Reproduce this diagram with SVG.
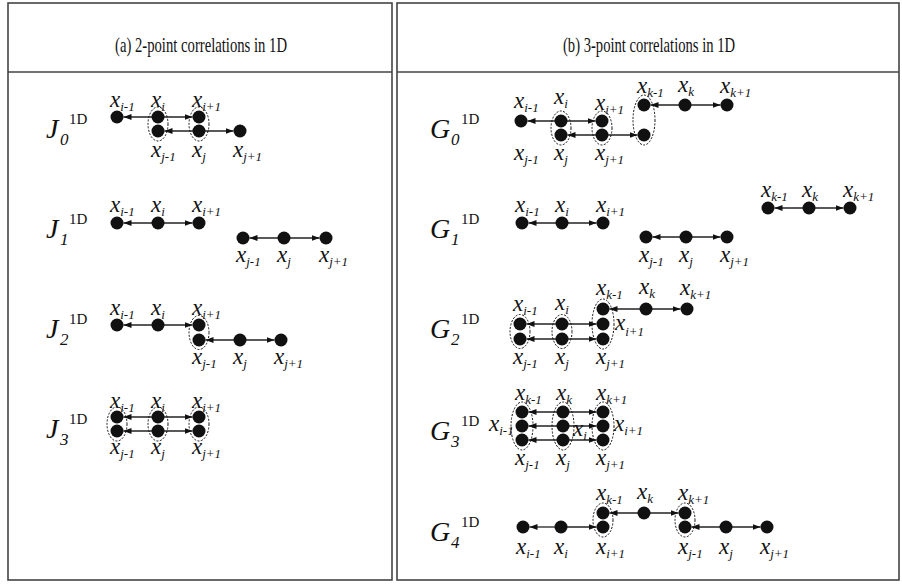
<svg xmlns="http://www.w3.org/2000/svg" width="902" height="584" viewBox="0 0 902 584">
<defs>
<marker id="ah" markerUnits="userSpaceOnUse" markerWidth="9" markerHeight="7" refX="8" refY="3" orient="auto">
<path d="M0,0 L8,3 L0,6 z" fill="#111"/>
</marker>
<style>
.frame{fill:#fff;stroke:#444;stroke-width:1.6}
.hdr{font-family:"Liberation Serif","DejaVu Serif",serif;font-size:22px;fill:#111}
.n{fill:#111}
.e{fill:none;stroke:#111;stroke-width:1;stroke-dasharray:2 1.5}
.c line{stroke:#222;stroke-width:1.3;marker-end:url(#ah)}
.lb{font-family:"Liberation Serif","DejaVu Serif",serif;font-style:italic;font-size:23px;fill:#111}
.sb{font-size:13px}
.big{font-family:"Liberation Serif","DejaVu Serif",serif;font-style:italic;font-size:28px;fill:#111}
.sup{font-family:"Liberation Serif","DejaVu Serif",serif;font-size:15px;fill:#111}
.sub{font-family:"Liberation Serif","DejaVu Serif",serif;font-style:italic;font-size:17px;fill:#111}
</style>
</defs>
<rect width="902" height="584" fill="#fff"/>
<g id="frames">
<rect class="frame" x="8" y="3" width="384" height="577"/>
<line x1="8" y1="72" x2="392" y2="72" stroke="#444" stroke-width="1.6"/>
<rect class="frame" x="397" y="3" width="502" height="577"/>
<line x1="397" y1="72" x2="899" y2="72" stroke="#444" stroke-width="1.6"/>
<text class="hdr" x="115" y="52" textLength="172" lengthAdjust="spacingAndGlyphs">(a)  2-point correlations in 1D</text>
<text class="hdr" x="563" y="52" textLength="172" lengthAdjust="spacingAndGlyphs">(b)  3-point correlations in 1D</text>
</g>

<g id="connectors" class="c">
<line x1="158" y1="117" x2="123.5" y2="117"/><line x1="158" y1="117" x2="192.5" y2="117"/>
<line x1="199" y1="131" x2="164.5" y2="131"/><line x1="199" y1="131" x2="233.5" y2="131"/>
<line x1="158" y1="223" x2="123.5" y2="223"/><line x1="158" y1="223" x2="192.5" y2="223"/>
<line x1="284" y1="238" x2="249.5" y2="238"/><line x1="284" y1="238" x2="319.5" y2="238"/>
<line x1="158" y1="325" x2="123.5" y2="325"/><line x1="158" y1="325" x2="192.5" y2="325"/>
<line x1="240" y1="340" x2="205.5" y2="340"/><line x1="240" y1="340" x2="274.5" y2="340"/>
<line x1="158" y1="417" x2="123.5" y2="417"/><line x1="158" y1="417" x2="192.5" y2="417"/>
<line x1="158" y1="431" x2="123.5" y2="431"/><line x1="158" y1="431" x2="192.5" y2="431"/>
<line x1="561" y1="121" x2="527.5" y2="121"/><line x1="561" y1="121" x2="595.5" y2="121"/>
<line x1="602" y1="135" x2="567.5" y2="135"/><line x1="602" y1="135" x2="637.5" y2="135"/>
<line x1="685" y1="105" x2="650.5" y2="105"/><line x1="685" y1="105" x2="720.5" y2="105"/>
<line x1="562" y1="223" x2="528.5" y2="223"/><line x1="562" y1="223" x2="596.5" y2="223"/>
<line x1="686" y1="237" x2="652.5" y2="237"/><line x1="686" y1="237" x2="720.5" y2="237"/>
<line x1="809" y1="208" x2="774.5" y2="208"/><line x1="809" y1="208" x2="843.5" y2="208"/>
<line x1="562" y1="324" x2="526.5" y2="324"/><line x1="562" y1="324" x2="596.5" y2="324"/>
<line x1="562" y1="339" x2="526.5" y2="339"/><line x1="562" y1="339" x2="596.5" y2="339"/>
<line x1="646" y1="309" x2="609.5" y2="309"/><line x1="646" y1="309" x2="680.5" y2="309"/>
<line x1="563" y1="412" x2="528.5" y2="412"/><line x1="563" y1="412" x2="596.5" y2="412"/>
<line x1="563" y1="426" x2="528.5" y2="426"/><line x1="563" y1="426" x2="596.5" y2="426"/>
<line x1="563" y1="440" x2="528.5" y2="440"/><line x1="563" y1="440" x2="596.5" y2="440"/>
<line x1="561" y1="527" x2="529.5" y2="527"/><line x1="561" y1="527" x2="596.5" y2="527"/>
<line x1="644" y1="513" x2="609.5" y2="513"/><line x1="644" y1="513" x2="678.5" y2="513"/>
<line x1="726" y1="527" x2="691.5" y2="527"/><line x1="726" y1="527" x2="760.5" y2="527"/>
</g>

<g id="J0">
<text class="big" x="46" y="138">J</text><text class="sup" x="69" y="124">1D</text><text class="sub" x="60" y="145">0</text>
<circle class="n" cx="117" cy="117" r="6.5"/><circle class="n" cx="158" cy="117" r="6.5"/><circle class="n" cx="199" cy="117" r="6.5"/>
<circle class="n" cx="158" cy="131" r="6.5"/><circle class="n" cx="199" cy="131" r="6.5"/><circle class="n" cx="240" cy="131" r="6.5"/>
<ellipse class="e" cx="158" cy="124" rx="10" ry="17"/><ellipse class="e" cx="199" cy="124" rx="10" ry="17"/>
<text class="lb" x="110" y="107">x<tspan class="sb" dy="4">i-1</tspan></text>
<text class="lb" x="151" y="107">x<tspan class="sb" dy="4">i</tspan></text>
<text class="lb" x="192" y="107">x<tspan class="sb" dy="4">i+1</tspan></text>
<text class="lb" x="151" y="157">x<tspan class="sb" dy="4">j-1</tspan></text>
<text class="lb" x="192" y="157">x<tspan class="sb" dy="4">j</tspan></text>
<text class="lb" x="233" y="157">x<tspan class="sb" dy="4">j+1</tspan></text>
</g>

<g id="J1">
<text class="big" x="46" y="238">J</text><text class="sup" x="69" y="224">1D</text><text class="sub" x="60" y="245">1</text>
<circle class="n" cx="117" cy="223" r="6.5"/><circle class="n" cx="158" cy="223" r="6.5"/><circle class="n" cx="199" cy="223" r="6.5"/>
<circle class="n" cx="243" cy="238" r="6.5"/><circle class="n" cx="284" cy="238" r="6.5"/><circle class="n" cx="326" cy="238" r="6.5"/>
<text class="lb" x="110" y="212">x<tspan class="sb" dy="4">i-1</tspan></text>
<text class="lb" x="151" y="212">x<tspan class="sb" dy="4">i</tspan></text>
<text class="lb" x="192" y="212">x<tspan class="sb" dy="4">i+1</tspan></text>
<text class="lb" x="236" y="262">x<tspan class="sb" dy="4">j-1</tspan></text>
<text class="lb" x="277" y="262">x<tspan class="sb" dy="4">j</tspan></text>
<text class="lb" x="319" y="262">x<tspan class="sb" dy="4">j+1</tspan></text>
</g>

<g id="J2">
<text class="big" x="46" y="338">J</text><text class="sup" x="69" y="324">1D</text><text class="sub" x="60" y="345">2</text>
<circle class="n" cx="117" cy="325" r="6.5"/><circle class="n" cx="158" cy="325" r="6.5"/><circle class="n" cx="199" cy="325" r="6.5"/>
<circle class="n" cx="199" cy="340" r="6.5"/><circle class="n" cx="240" cy="340" r="6.5"/><circle class="n" cx="281" cy="340" r="6.5"/>
<ellipse class="e" cx="199" cy="332.5" rx="10" ry="17"/>
<text class="lb" x="110" y="315">x<tspan class="sb" dy="4">i-1</tspan></text>
<text class="lb" x="151" y="315">x<tspan class="sb" dy="4">i</tspan></text>
<text class="lb" x="192" y="315">x<tspan class="sb" dy="4">i+1</tspan></text>
<text class="lb" x="192" y="364">x<tspan class="sb" dy="4">j-1</tspan></text>
<text class="lb" x="233" y="364">x<tspan class="sb" dy="4">j</tspan></text>
<text class="lb" x="274" y="364">x<tspan class="sb" dy="4">j+1</tspan></text>
</g>

<g id="J3">
<text class="big" x="46" y="438">J</text><text class="sup" x="69" y="424">1D</text><text class="sub" x="60" y="445">3</text>
<circle class="n" cx="117" cy="417" r="6.5"/><circle class="n" cx="158" cy="417" r="6.5"/><circle class="n" cx="199" cy="417" r="6.5"/>
<circle class="n" cx="117" cy="431" r="6.5"/><circle class="n" cx="158" cy="431" r="6.5"/><circle class="n" cx="199" cy="431" r="6.5"/>
<ellipse class="e" cx="117" cy="424" rx="10" ry="17"/><ellipse class="e" cx="158" cy="424" rx="10" ry="17"/><ellipse class="e" cx="199" cy="424" rx="10" ry="17"/>
<text class="lb" x="110" y="408">x<tspan class="sb" dy="4">i-1</tspan></text>
<text class="lb" x="151" y="408">x<tspan class="sb" dy="4">i</tspan></text>
<text class="lb" x="192" y="408">x<tspan class="sb" dy="4">i+1</tspan></text>
<text class="lb" x="110" y="454">x<tspan class="sb" dy="4">j-1</tspan></text>
<text class="lb" x="151" y="454">x<tspan class="sb" dy="4">j</tspan></text>
<text class="lb" x="192" y="454">x<tspan class="sb" dy="4">j+1</tspan></text>
</g>

<g id="G0">
<text class="big" x="430" y="138">G</text><text class="sup" x="461" y="124">1D</text><text class="sub" x="451" y="145">0</text>
<circle class="n" cx="521" cy="121" r="6.5"/><circle class="n" cx="561" cy="121" r="6.5"/><circle class="n" cx="602" cy="121" r="6.5"/>
<circle class="n" cx="561" cy="135" r="6.5"/><circle class="n" cx="602" cy="135" r="6.5"/><circle class="n" cx="644" cy="135" r="6.5"/>
<circle class="n" cx="644" cy="105" r="6.5"/><circle class="n" cx="685" cy="105" r="6.5"/><circle class="n" cx="727" cy="105" r="6.5"/>
<ellipse class="e" cx="561" cy="128" rx="10" ry="17"/><ellipse class="e" cx="602" cy="128" rx="10" ry="17"/><ellipse class="e" cx="644" cy="120" rx="11" ry="25"/>
<text class="lb" x="514" y="108">x<tspan class="sb" dy="4">i-1</tspan></text>
<text class="lb" x="554" y="104">x<tspan class="sb" dy="4">i</tspan></text>
<text class="lb" x="595" y="110">x<tspan class="sb" dy="4">i+1</tspan></text>
<text class="lb" x="637" y="93">x<tspan class="sb" dy="4">k-1</tspan></text>
<text class="lb" x="678" y="92">x<tspan class="sb" dy="4">k</tspan></text>
<text class="lb" x="720" y="93">x<tspan class="sb" dy="4">k+1</tspan></text>
<text class="lb" x="514" y="160">x<tspan class="sb" dy="4">j-1</tspan></text>
<text class="lb" x="554" y="160">x<tspan class="sb" dy="4">j</tspan></text>
<text class="lb" x="595" y="160">x<tspan class="sb" dy="4">j+1</tspan></text>
</g>

<g id="G1">
<text class="big" x="430" y="238">G</text><text class="sup" x="461" y="224">1D</text><text class="sub" x="451" y="245">1</text>
<circle class="n" cx="522" cy="223" r="6.5"/><circle class="n" cx="562" cy="223" r="6.5"/><circle class="n" cx="603" cy="223" r="6.5"/>
<circle class="n" cx="646" cy="237" r="6.5"/><circle class="n" cx="686" cy="237" r="6.5"/><circle class="n" cx="727" cy="237" r="6.5"/>
<circle class="n" cx="768" cy="208" r="6.5"/><circle class="n" cx="809" cy="208" r="6.5"/><circle class="n" cx="850" cy="208" r="6.5"/>
<text class="lb" x="515" y="212">x<tspan class="sb" dy="4">i-1</tspan></text>
<text class="lb" x="555" y="212">x<tspan class="sb" dy="4">i</tspan></text>
<text class="lb" x="596" y="212">x<tspan class="sb" dy="4">i+1</tspan></text>
<text class="lb" x="639" y="262">x<tspan class="sb" dy="4">j-1</tspan></text>
<text class="lb" x="679" y="262">x<tspan class="sb" dy="4">j</tspan></text>
<text class="lb" x="720" y="262">x<tspan class="sb" dy="4">j+1</tspan></text>
<text class="lb" x="761" y="197">x<tspan class="sb" dy="4">k-1</tspan></text>
<text class="lb" x="802" y="197">x<tspan class="sb" dy="4">k</tspan></text>
<text class="lb" x="843" y="197">x<tspan class="sb" dy="4">k+1</tspan></text>
</g>

<g id="G2">
<text class="big" x="430" y="338">G</text><text class="sup" x="461" y="324">1D</text><text class="sub" x="451" y="345">2</text>
<circle class="n" cx="520" cy="324" r="6.5"/><circle class="n" cx="562" cy="324" r="6.5"/><circle class="n" cx="603" cy="324" r="6.5"/>
<circle class="n" cx="520" cy="339" r="6.5"/><circle class="n" cx="562" cy="339" r="6.5"/><circle class="n" cx="603" cy="339" r="6.5"/>
<circle class="n" cx="603" cy="309" r="6.5"/><circle class="n" cx="646" cy="309" r="6.5"/><circle class="n" cx="687" cy="309" r="6.5"/>
<ellipse class="e" cx="520" cy="331.5" rx="10" ry="17"/><ellipse class="e" cx="562" cy="331.5" rx="10" ry="17"/><ellipse class="e" cx="603" cy="324" rx="11" ry="25"/>
<text class="lb" x="513" y="311">x<tspan class="sb" dy="4">i-1</tspan></text>
<text class="lb" x="555" y="310">x<tspan class="sb" dy="4">i</tspan></text>
<text class="lb" x="596" y="295">x<tspan class="sb" dy="4">k-1</tspan></text>
<text class="lb" x="639" y="294">x<tspan class="sb" dy="4">k</tspan></text>
<text class="lb" x="680" y="295">x<tspan class="sb" dy="4">k+1</tspan></text>
<text class="lb" x="615" y="330">x<tspan class="sb" dy="6">i+1</tspan></text>
<text class="lb" x="513" y="364">x<tspan class="sb" dy="4">j-1</tspan></text>
<text class="lb" x="555" y="364">x<tspan class="sb" dy="4">j</tspan></text>
<text class="lb" x="596" y="364">x<tspan class="sb" dy="4">j+1</tspan></text>
</g>

<g id="G3">
<text class="big" x="430" y="440">G</text><text class="sup" x="461" y="426">1D</text><text class="sub" x="451" y="447">3</text>
<circle class="n" cx="522" cy="412" r="6.5"/><circle class="n" cx="563" cy="412" r="6.5"/><circle class="n" cx="603" cy="412" r="6.5"/>
<circle class="n" cx="522" cy="426" r="6.5"/><circle class="n" cx="563" cy="426" r="6.5"/><circle class="n" cx="603" cy="426" r="6.5"/>
<circle class="n" cx="522" cy="440" r="6.5"/><circle class="n" cx="563" cy="440" r="6.5"/><circle class="n" cx="603" cy="440" r="6.5"/>
<ellipse class="e" cx="522" cy="426" rx="11" ry="24"/><ellipse class="e" cx="563" cy="426" rx="11" ry="24"/><ellipse class="e" cx="603" cy="426" rx="11" ry="24"/>
<text class="lb" x="515" y="400">x<tspan class="sb" dy="4">k-1</tspan></text>
<text class="lb" x="556" y="400">x<tspan class="sb" dy="4">k</tspan></text>
<text class="lb" x="596" y="400">x<tspan class="sb" dy="4">k+1</tspan></text>
<text class="lb" x="489" y="431">x<tspan class="sb" dy="4">i-1</tspan></text>
<text class="lb" x="573" y="436">x<tspan class="sb" dy="4">i</tspan></text>
<text class="lb" x="614" y="431">x<tspan class="sb" dy="4">i+1</tspan></text>
<text class="lb" x="515" y="465">x<tspan class="sb" dy="4">j-1</tspan></text>
<text class="lb" x="556" y="465">x<tspan class="sb" dy="4">j</tspan></text>
<text class="lb" x="596" y="465">x<tspan class="sb" dy="4">j+1</tspan></text>
</g>

<g id="G4">
<text class="big" x="430" y="541">G</text><text class="sup" x="461" y="527">1D</text><text class="sub" x="451" y="548">4</text>
<circle class="n" cx="523" cy="527" r="6.5"/><circle class="n" cx="561" cy="527" r="6.5"/><circle class="n" cx="603" cy="527" r="6.5"/>
<circle class="n" cx="603" cy="513" r="6.5"/><circle class="n" cx="644" cy="513" r="6.5"/><circle class="n" cx="685" cy="513" r="6.5"/>
<circle class="n" cx="685" cy="527" r="6.5"/><circle class="n" cx="726" cy="527" r="6.5"/><circle class="n" cx="767" cy="527" r="6.5"/>
<ellipse class="e" cx="603" cy="520" rx="10" ry="17"/><ellipse class="e" cx="685" cy="520" rx="10" ry="17"/>
<text class="lb" x="596" y="500">x<tspan class="sb" dy="4">k-1</tspan></text>
<text class="lb" x="637" y="499">x<tspan class="sb" dy="4">k</tspan></text>
<text class="lb" x="678" y="500">x<tspan class="sb" dy="4">k+1</tspan></text>
<text class="lb" x="516" y="554">x<tspan class="sb" dy="4">i-1</tspan></text>
<text class="lb" x="554" y="554">x<tspan class="sb" dy="4">i</tspan></text>
<text class="lb" x="596" y="554">x<tspan class="sb" dy="4">i+1</tspan></text>
<text class="lb" x="678" y="554">x<tspan class="sb" dy="4">j-1</tspan></text>
<text class="lb" x="719" y="554">x<tspan class="sb" dy="4">j</tspan></text>
<text class="lb" x="760" y="554">x<tspan class="sb" dy="4">j+1</tspan></text>
</g>
</svg>
